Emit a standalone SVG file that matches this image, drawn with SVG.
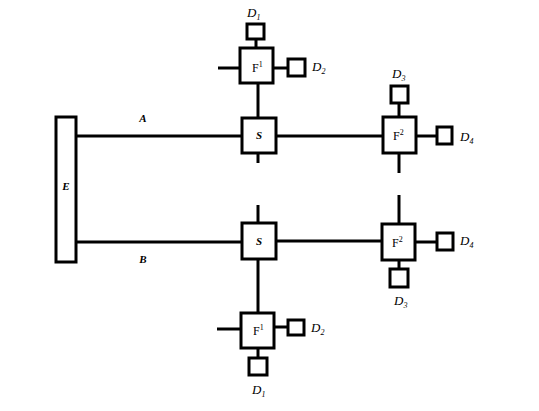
<svg xmlns="http://www.w3.org/2000/svg" width="539" height="411" viewBox="0 0 539 411">
<style>
.box{fill:#fff;stroke:#000;stroke-width:3}
.ln{stroke:#000;stroke-width:3;fill:none}
.it{font-family:"Liberation Serif",serif;font-style:italic;font-size:13px;fill:#000}
.bi{font-family:"Liberation Serif",serif;font-style:italic;font-weight:bold;font-size:11px;fill:#000}
.f{font-family:"Liberation Serif",serif;font-size:12px;fill:#000}
.sub{font-size:8px}
</style>
<rect width="539" height="411" fill="#fff"/>
<g id="connectors">
<line class="ln" x1="76" y1="136" x2="242" y2="136" stroke-width="2.5"/>
<line class="ln" x1="76" y1="242" x2="242" y2="242" stroke-width="2.5"/>
<line class="ln" x1="276" y1="136" x2="383" y2="136"/>
<line class="ln" x1="276" y1="241" x2="383" y2="241"/>
<line class="ln" x1="258" y1="83" x2="258" y2="118"/>
<line class="ln" x1="258" y1="153" x2="258" y2="163"/>
<line class="ln" x1="258" y1="205" x2="258" y2="223"/>
<line class="ln" x1="258" y1="259" x2="258" y2="313"/>
<line class="ln" x1="218" y1="68" x2="240" y2="68"/>
<line class="ln" x1="273" y1="68" x2="288" y2="68"/>
<line class="ln" x1="256" y1="39" x2="256" y2="48"/>
<line class="ln" x1="399" y1="103" x2="399" y2="117"/>
<line class="ln" x1="416" y1="136" x2="437" y2="136"/>
<line class="ln" x1="399" y1="153" x2="399" y2="173"/>
<line class="ln" x1="399" y1="195" x2="399" y2="224"/>
<line class="ln" x1="415" y1="242" x2="437" y2="242"/>
<line class="ln" x1="399" y1="260" x2="399" y2="269"/>
<line class="ln" x1="217" y1="329" x2="241" y2="329"/>
<line class="ln" x1="274" y1="327" x2="288" y2="327"/>
<line class="ln" x1="258" y1="348" x2="258" y2="358"/>
</g>
<g id="E"><rect class="box" x="56" y="117" width="20" height="145" stroke-width="2.5"/><text class="bi" x="66" y="190" text-anchor="middle">E</text></g>
<g id="labelA"><text class="bi" x="143" y="122" text-anchor="middle">A</text></g>
<g id="labelB"><text class="bi" x="143" y="263" text-anchor="middle">B</text></g>
<g id="S1"><rect class="box" x="242" y="118" width="34" height="35"/><text class="bi" x="259" y="139" text-anchor="middle">S</text></g>
<g id="S2"><rect class="box" x="242" y="223" width="34" height="36"/><text class="bi" x="259" y="245" text-anchor="middle">S</text></g>
<g id="F1top"><rect class="box" x="240" y="48" width="33" height="35"/><text class="f" x="252" y="72">F<tspan class="sub" dy="-5">1</tspan></text></g>
<g id="D1top"><rect class="box" x="247" y="24" width="17" height="15"/><text class="it" x="247" y="17">D<tspan class="sub" dy="3">1</tspan></text></g>
<g id="D2top"><rect class="box" x="288" y="59" width="17" height="17"/><text class="it" x="312" y="71">D<tspan class="sub" dy="3">2</tspan></text></g>
<g id="F2top"><rect class="box" x="383" y="117" width="33" height="36"/><text class="f" x="393" y="140">F<tspan class="sub" dy="-5">2</tspan></text></g>
<g id="D3top"><rect class="box" x="391" y="86" width="17" height="17"/><text class="it" x="392" y="78">D<tspan class="sub" dy="3">3</tspan></text></g>
<g id="D4top"><rect class="box" x="437" y="127" width="15" height="17"/><text class="it" x="460" y="141">D<tspan class="sub" dy="3">4</tspan></text></g>
<g id="F2bot"><rect class="box" x="382" y="224" width="33" height="36"/><text class="f" x="392" y="247">F<tspan class="sub" dy="-5">2</tspan></text></g>
<g id="D4bot"><rect class="box" x="437" y="233" width="16" height="17"/><text class="it" x="460" y="245">D<tspan class="sub" dy="3">4</tspan></text></g>
<g id="D3bot"><rect class="box" x="390" y="269" width="18" height="18"/><text class="it" x="394" y="305">D<tspan class="sub" dy="3">3</tspan></text></g>
<g id="F1bot"><rect class="box" x="241" y="313" width="33" height="35"/><text class="f" x="253" y="335">F<tspan class="sub" dy="-5">1</tspan></text></g>
<g id="D2bot"><rect class="box" x="288" y="320" width="16" height="15"/><text class="it" x="311" y="332">D<tspan class="sub" dy="3">2</tspan></text></g>
<g id="D1bot"><rect class="box" x="249" y="358" width="18" height="17"/><text class="it" x="252" y="394">D<tspan class="sub" dy="3">1</tspan></text></g>
</svg>
